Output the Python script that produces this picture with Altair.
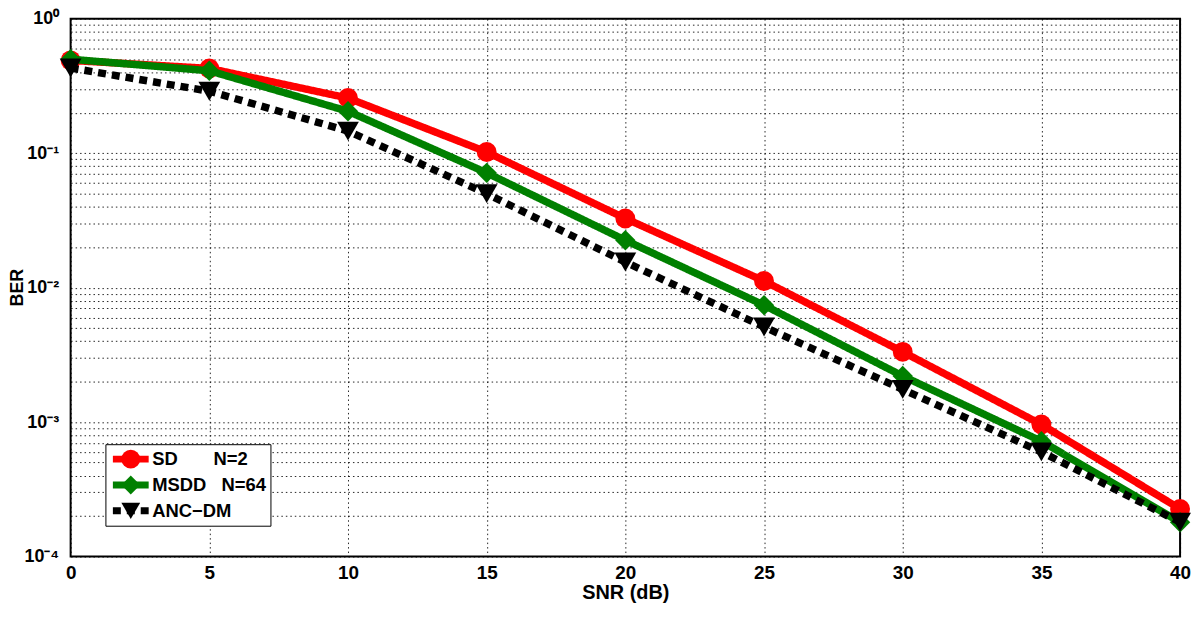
import altair as alt
import pandas as pd

# ---- data ----
snr = [0, 5, 10, 15, 20, 25, 30, 35, 40]
ber_sd = [0.49, 0.427, 0.257, 0.102, 0.0327, 0.0112, 0.00333, 0.00096, 0.000226]
ber_msdd = [0.50, 0.41, 0.205, 0.0714, 0.0225, 0.0074, 0.0022, 0.00072, 0.00018]
ber_anc = [0.43, 0.289, 0.146, 0.050, 0.0155, 0.0051, 0.00175, 0.0006, 0.00018]

NB = "\u00a0"
series = ["SD" + NB * 7 + "N=2", "MSDD" + NB * 3 + "N=64" + NB, "ANC\u2212DM"]
marker_keys = ["m_sd", "m_msdd", "m_anc"]
colors = ["#ff0000", "#008000", "#000000"]
dashes = [[1, 0], [1, 0], [8, 6]]
shapes = ["circle", "diamond", "triangle-down"]
marker_sizes = [400, 420, 480]

x_ticks = [0, 5, 10, 15, 20, 25, 30, 35, 40]
y_ticks = [m * 10 ** e for e in range(-4, 0) for m in range(1, 10)] + [1]

rows = []
for name, mk, vals in zip(series, marker_keys, [ber_sd, ber_msdd, ber_anc]):
    for s, b in zip(snr, vals):
        rows.append({"snr": s, "ber": b, "series": name, "marker": mk})
df = pd.DataFrame(rows)

FONT = "Liberation Sans"

x_enc = alt.X(
    "snr:Q",
    title="SNR (dB)",
    scale=alt.Scale(domain=[0, 40], nice=False, zero=False),
    axis=alt.Axis(
        values=x_ticks, grid=True, gridDash=[1.5, 3], gridColor="#000000",
        gridOpacity=0.85, gridWidth=1, tickSize=0, domain=False,
        labelFont=FONT, labelFontSize=19, labelFontWeight="bold", labelColor="black",
        labelPadding=7, labelFlush=False, labelOverlap=False,
        titleFont=FONT, titleFontSize=20, titleFontWeight="bold", titleColor="black",
        titleY=36, titleBaseline="middle",
    ),
)

y_label_expr = (
    "datum.value == 1 ? '10\u2070' : datum.value == 0.1 ? '10\u207b\u00b9' : "
    "datum.value == 0.01 ? '10\u207b\u00b2' : datum.value == 0.001 ? '10\u207b\u00b3' : "
    "datum.value == 0.0001 ? '10\u207b\u2074' : ''"
)

y_enc = alt.Y(
    "ber:Q",
    title="BER",
    scale=alt.Scale(type="log", domain=[1e-4, 1], nice=False),
    axis=alt.Axis(
        values=y_ticks, labelExpr=y_label_expr, grid=True, gridDash=[1.5, 3],
        gridColor="#000000", gridOpacity=0.85, gridWidth=1, tickSize=0, domain=False,
        labelFont=FONT, labelFontSize=18, labelFontWeight="bold", labelColor="black",
        labelPadding=12, labelFlush=False, labelOverlap=False, labelBound=False,
        titleFont=FONT, titleFontSize=18, titleFontWeight="bold", titleColor="black",
        titleX=-53, titleY=270, titleAngle=270, titleAlign="center",
        titleBaseline="middle",
    ),
)

legend_lines = alt.Legend(
    title=None, orient="none", legendX=35, legendY=428,
    symbolType="stroke", symbolSize=1296, symbolStrokeWidth=7, symbolOpacity=1,
    labelFont=FONT, labelFontSize=18.5, labelFontWeight="bold", labelColor="black",
    labelOffset=0, padding=4, rowPadding=4, clipHeight=22,
    strokeColor="black", fillColor="white", cornerRadius=0, zindex=1,
)

legend_marks = alt.Legend(
    title=None, orient="none", legendX=35, legendY=428,
    symbolSize=360, symbolStrokeWidth=0, symbolOffset=12, symbolOpacity=1,
    labelFont=FONT, labelFontSize=18.5, labelFontWeight="bold", labelExpr="''",
    labelOffset=0, padding=4, rowPadding=4, clipHeight=22, zindex=2,
)

stroke_scale = alt.Scale(domain=series, range=colors)
dash_scale = alt.Scale(domain=series, range=dashes)
fill_scale = alt.Scale(domain=marker_keys, range=colors)
shape_scale = alt.Scale(domain=marker_keys, range=shapes)

base = alt.Chart(df)
layers = []
for i, mk in enumerate(marker_keys):
    sub = base.transform_filter(alt.datum.marker == mk)
    line = sub.mark_line(strokeWidth=7.5, strokeCap="butt", strokeJoin="round").encode(
        x=x_enc, y=y_enc,
        stroke=alt.Stroke("series:N", scale=stroke_scale, legend=legend_lines),
        strokeDash=alt.StrokeDash("series:N", scale=dash_scale, legend=legend_lines),
    )
    pts = sub.mark_point(filled=True, size=marker_sizes[i], opacity=1).encode(
        x=x_enc, y=y_enc,
        fill=alt.Fill("marker:N", scale=fill_scale, legend=legend_marks),
        shape=alt.Shape("marker:N", scale=shape_scale, legend=legend_marks),
    )
    layers += [line, pts]

chart = (
    alt.layer(*layers)
    .properties(
        width=1116, height=541,
        autosize=alt.AutoSizeParams(type="none"),
        padding={"left": 63, "top": 9, "right": 12, "bottom": 52},
        background="white",
    )
    .configure_view(stroke="black", strokeWidth=2)
)

chart.save("out.html", embed_options={"renderer": "svg", "actions": False})
